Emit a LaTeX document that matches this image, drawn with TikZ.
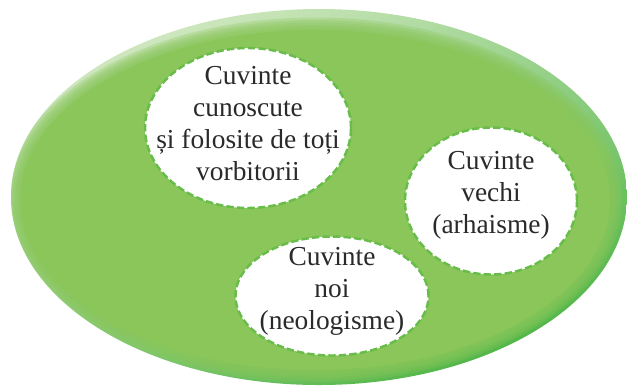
\documentclass[tikz,border=0pt]{standalone}
\usepackage{fontspec}
\setmainfont{Liberation Serif}
\usepackage{tikz}
\usetikzlibrary{shapes.geometric}
\definecolor{leafgreen}{HTML}{8AC65A}
\definecolor{rimlight}{HTML}{D2E8C2}
\definecolor{rimdark}{HTML}{4FB545}
\definecolor{dashgreen}{HTML}{68BD4A}
\definecolor{wordgray}{HTML}{2A2A2A}

\begin{document}
\begin{tikzpicture}[
  font=\fontsize{15.6}{18.2}\selectfont,
  bubble/.style={ellipse, draw=dashgreen, fill=white, line width=1.4pt,
                 dash pattern=on 4.2pt off 1.8pt, inner sep=0pt},
  word/.style={align=center, text=wordgray, inner sep=0pt},
]
\useasboundingbox (0,0) rectangle (12.54,-7.70);

% big green field
\begin{scope}
  \clip (6.38,-3.94) ellipse [x radius=6.16, y radius=3.76];
  \shade[top color=rimlight, bottom color=rimdark, shading angle=25]
    (0.2,-0.1) rectangle (12.6,-7.8);
  \foreach \k in {0,...,4}
    \fill[leafgreen, opacity=0.3] (6.30,-4.00)
      ellipse [x radius=5.90+0.25-0.05*\k, y radius=3.40+0.25-0.05*\k];
  \fill[leafgreen] (6.30,-4.00) ellipse [x radius=5.90, y radius=3.40];
\end{scope}

% the three word groups
\node[bubble, minimum width=4.12cm, minimum height=3.2cm] (known) at (4.96,-2.56) {};
\node[word] (knowntxt) at ([yshift=0.09cm]known.center)
  {Cuvinte\\cunoscute\\și folosite de toți\\vorbitorii};

\node[bubble, minimum width=3.44cm, minimum height=2.94cm] (old) at (9.82,-4.02) {};
\node[word] (oldtxt) at ([yshift=0.12cm]old.center)
  {Cuvinte\\vechi\\(arhaisme)};

\node[bubble, minimum width=3.86cm, minimum height=2.38cm] (new) at (6.64,-5.92) {};
\node[word] (newtxt) at ([yshift=0.1cm]new.center)
  {Cuvinte\\noi\\(neologisme)};
\end{tikzpicture}
\end{document}
